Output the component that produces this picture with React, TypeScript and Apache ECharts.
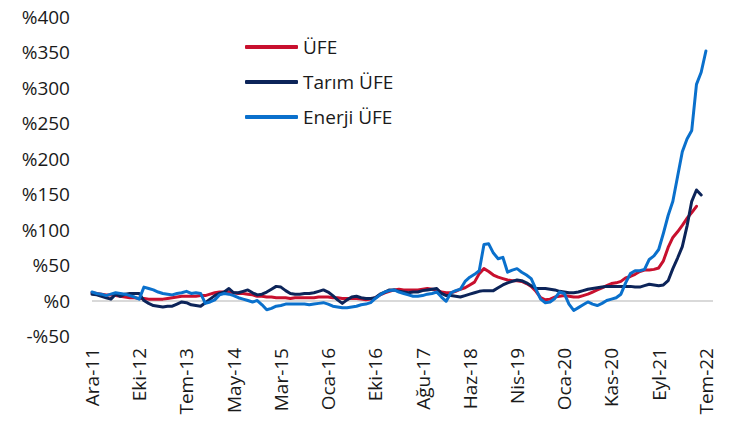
import React, { useEffect, useRef } from "react";
import * as echarts from "echarts";

// Tick labels placed every 10 rows of the source table
const xTickLabels = ["Ara-11", "Eki-12", "Tem-13", "May-14", "Mar-15", "Oca-16", "Eki-16", "Ağu-17", "Haz-18", "Nis-19", "Oca-20", "Kas-20", "Eyl-21", "Tem-22"];
const xTickStep = 10;

const ufe = [
  11, 10, 9, 8, 8, 7, 6, 5, 4, 4,
  3, 3, 2, 2, 2, 2, 3, 4, 5, 6,
  6, 6, 6, 7, 7, 9, 11, 12, 12, 12,
  11, 10, 10, 9, 8, 6, 6, 5, 5, 4,
  4, 4, 3, 4, 4, 4, 4, 4, 5, 5,
  5, 4, 4, 3, 3, 3, 3, 2, 1, 2,
  4, 8, 11, 13, 15, 16, 15, 15, 15, 15,
  16, 17, 16, 15, 12, 11, 11, 13, 16, 18,
  22, 26, 38, 45, 41, 36, 33, 31, 29, 28,
  28, 27, 24, 20, 13, 4, 1, 2, 5, 6,
  7, 6, 5, 5, 7, 9, 12, 15, 18, 21,
  24, 25, 27, 32, 34, 37, 41, 43, 43, 44,
  46, 56, 75, 89, 97, 106, 116, 124, 133,
];

const tarimUfe = [
  9, 8, 6, 4, 2, 9, 6, 9, 10, 10,
  10, 0, -4, -7, -8, -9, -8, -8, -5, -2,
  -3, -6, -7, -8, -3, 2, 7, 10, 12, 17,
  11, 11, 13, 15, 11, 8, 9, 12, 16, 20,
  19, 14, 10, 9, 9, 10, 10, 11, 13, 15,
  12, 7, 1, -4, 1, 5, 6, 4, 3, 3,
  4, 9, 12, 15, 15, 13, 12, 11, 12, 12,
  14, 15, 16, 17, 10, 7, 7, 6, 5, 7,
  9, 11, 13, 14, 14, 14, 18, 22, 25, 27,
  29, 28, 25, 21, 17, 17, 17, 16, 15, 13,
  12, 11, 11, 12, 14, 16, 17, 18, 19, 20,
  20, 20, 20, 20, 20, 19, 19, 21, 23, 22,
  21, 22, 28, 45, 60, 76, 105, 140, 156, 149,
];

const enerjiUfe = [
  12, 10, 9, 7, 9, 11, 10, 9, 7, 5,
  2, 19, 17, 15, 12, 10, 9, 8, 10, 11,
  13, 10, 11, 10, -4, -2, 1, 8, 10, 9,
  7, 4, 2, 0, -2, 0, -6, -13, -11, -8,
  -7, -5, -5, -5, -5, -5, -6, -5, -4, -3,
  -5, -8, -9, -10, -10, -9, -8, -6, -5, -3,
  3, 8, 12, 14, 15, 12, 10, 8, 6, 6,
  7, 9, 10, 12, 5, -1, 11, 14, 16, 27,
  33, 37, 42, 79, 80, 67, 59, 61, 40, 43,
  45, 40, 36, 31, 16, 2, -3, -2, 3, 12,
  10, -5, -14, -10, -6, -2, -5, -7, -4, 0,
  2, 4, 9, 25, 38, 42, 42, 44, 58, 63,
  72, 95, 120, 140, 175, 210, 228, 240, 305, 322, 352,
];

const seriesNames = ["ÜFE", "Tarım ÜFE", "Enerji ÜFE"];
const seriesColors = ["#C8102E", "#0C2459", "#0A70CC"];

const FONT = "'Open Sans', 'Noto Sans', sans-serif";

export default function App() {
  const ref = useRef<HTMLDivElement>(null);

  useEffect(() => {
    if (!ref.current) return;
    const chart = echarts.init(ref.current, undefined, { renderer: "svg" });
    const toPairs = (arr: number[]) => arr.map((v, i) => [i, v]);
    const allData = [ufe, tarimUfe, enerjiUfe];

    chart.setOption({
      animation: false,
      backgroundColor: "#ffffff",
      textStyle: { fontFamily: FONT },
      grid: { left: 92, right: 20, top: 17, bottom: 90, containLabel: false },
      legend: {
        orient: "vertical",
        left: 240,
        top: 32,
        itemWidth: 53,
        itemHeight: 4,
        itemGap: 15,
        icon: "roundRect",
        data: seriesNames,
        textStyle: { fontSize: 19, color: "#1a1a1a", fontFamily: FONT, lineHeight: 20 },
      },
      xAxis: {
        type: "value",
        min: 0,
        max: 131.5,
        interval: xTickStep,
        axisLine: { show: false, onZero: false },
        axisTick: { show: false },
        splitLine: { show: false },
        axisLabel: {
          rotate: 90,
          margin: 12,
          fontSize: 19,
          color: "#1a1a1a",
          fontFamily: FONT,
          showMaxLabel: false,
          formatter: (v: number) => {
            const k = Math.round(v / xTickStep);
            if (Math.abs(v - k * xTickStep) > 1e-6) return "";
            return xTickLabels[k] ?? "";
          },
        },
      },
      yAxis: {
        type: "value",
        min: -50,
        max: 400,
        interval: 50,
        axisLine: { show: false },
        axisTick: { show: false },
        splitLine: { show: false },
        axisLabel: {
          margin: 22,
          fontSize: 19,
          color: "#1a1a1a",
          fontFamily: FONT,
          formatter: (v: number) => (v < 0 ? "-%" + Math.abs(v) : "%" + v),
        },
      },
      series: seriesNames.map((name, idx) => ({
        name,
        type: "line",
        data: toPairs(allData[idx]),
        showSymbol: false,
        symbol: "none",
        color: seriesColors[idx],
        lineStyle: { width: 3, color: seriesColors[idx], cap: "round", join: "round" },
        z: 2 + idx,
        markLine:
          idx === 0
            ? {
                silent: true,
                symbol: ["none", "none"],
                label: { show: false },
                lineStyle: { color: "#d9d9d9", width: 2, type: "solid" },
                data: [{ yAxis: 0 }],
                z: 1,
              }
            : undefined,
      })),
    });

    return () => chart.dispose();
  }, []);

  return (
    <div
      ref={ref}
      style={{ position: "fixed", left: 0, top: 0, width: 733, height: 426, background: "#fff" }}
    />
  );
}
